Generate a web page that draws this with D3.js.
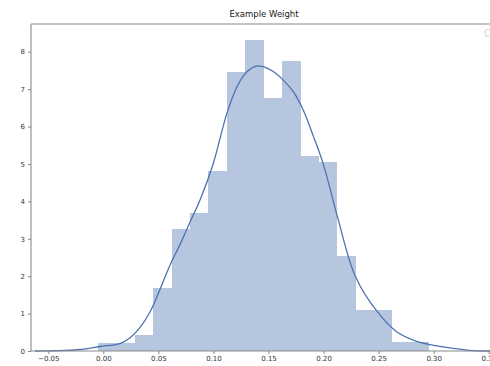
<!DOCTYPE html>
<html>
<head>
<meta charset="utf-8">
<script src="https://cdn.jsdelivr.net/npm/d3@7"></script>
<style>
  html, body { margin: 0; padding: 0; background: #fff; }
  svg { display: block; }
  text { font-family: "DejaVu Sans", sans-serif; }
</style>
</head>
<body>
<svg id="chart" width="490" height="366"></svg>
<script>
// ---- data ----
const title = "Example Weight";
const binStart = -0.0045;
const binWidth = 0.01665;
const binHeights = [0.22, 0.22, 0.43, 1.68, 3.25, 3.7, 4.8, 7.47, 8.32, 6.76, 7.74, 5.2, 5.06, 2.54, 1.1, 1.1, 0.24, 0.24];
const kdeX = [-0.062, -0.0485, -0.035, -0.021, -0.003, 0.015, 0.024, 0.033, 0.0425, 0.0515, 0.0606, 0.0697, 0.0788, 0.088, 0.0997, 0.1124, 0.1215, 0.1306, 0.1397, 0.1452, 0.1543, 0.1634, 0.1725, 0.1815, 0.1906, 0.1997, 0.2125, 0.2288, 0.2488, 0.267, 0.2852, 0.2952, 0.3179, 0.3361, 0.3515];
const kdeY = [0.0, 0.005, 0.015, 0.04, 0.12, 0.2, 0.35, 0.62, 1.05, 1.65, 2.3, 2.85, 3.45, 4.05, 5.0, 6.37, 7.07, 7.47, 7.62, 7.6, 7.47, 7.24, 6.93, 6.44, 5.75, 5.0, 3.6, 2.0, 1.05, 0.5, 0.25, 0.18, 0.07, 0.01, 0.0];
const xTicks = [-0.05, 0.00, 0.05, 0.10, 0.15, 0.20, 0.25, 0.30, 0.35];
const yTicks = [0, 1, 2, 3, 4, 5, 6, 7, 8];

// ---- layout ----
const L = 31, R = 497, T = 24, B = 351;
const svg = d3.select("#chart");
const x = d3.scaleLinear().domain([-0.0657, 0.3575]).range([L, R]);
const y = d3.scaleLinear().domain([0, 8.74]).range([B, T]);

const barColor = "#b7c6df";
const lineColor = "#4c72b0";

// bars
const bins = binHeights.map((h, i) => ({ x0: binStart + i * binWidth, x1: binStart + (i + 1) * binWidth, h }));
svg.append("g").attr("shape-rendering", "crispEdges").selectAll("rect").data(bins).join("rect")
  .attr("x", d => x(d.x0))
  .attr("width", d => x(d.x1) - x(d.x0) + 0.6)
  .attr("y", d => y(d.h))
  .attr("height", d => y(0) - y(d.h))
  .attr("fill", barColor);

// kde line
const pts = kdeX.map((v, i) => [v, kdeY[i]]);
svg.append("path")
  .datum(pts)
  .attr("fill", "none")
  .attr("stroke", lineColor)
  .attr("stroke-width", 1.3)
  .attr("d", d3.line().x(d => x(d[0])).y(d => y(d[1])).curve(d3.curveCatmullRom.alpha(0.5)));

// axes
const fmt = v => (v < 0 ? "\u2212" : "") + Math.abs(v).toFixed(2);
const xAxis = svg.append("g").attr("transform", `translate(0,${B})`)
  .call(d3.axisBottom(x).tickValues(xTicks).tickFormat(fmt).tickSize(3).tickPadding(2));
const yAxis = svg.append("g").attr("transform", `translate(${L},0)`)
  .call(d3.axisLeft(y).tickValues(yTicks).tickFormat(d3.format("d")).tickSize(3).tickPadding(3));
[xAxis, yAxis].forEach(g => {
  g.select(".domain").remove();
  g.selectAll(".tick line").attr("stroke", "#666").attr("stroke-width", 0.8);
  g.selectAll(".tick text").attr("fill", "#333").style("font-size", "7px");
});

// spines
const spine = svg.append("g").attr("fill", "none").attr("stroke", "#8a8a8a").attr("stroke-width", 1.1);
spine.append("line").attr("x1", L).attr("x2", R).attr("y1", T).attr("y2", T);
spine.append("line").attr("x1", L).attr("x2", L).attr("y1", T).attr("y2", B);
spine.append("line").attr("x1", L).attr("x2", R).attr("y1", B).attr("y2", B);
spine.append("line").attr("x1", R).attr("x2", R).attr("y1", T).attr("y2", B);

// title
svg.append("text")
  .attr("x", (L + R) / 2).attr("y", 17)
  .attr("text-anchor", "middle")
  .attr("fill", "#222")
  .style("font-size", "8.5px")
  .text(title);

// faint clipped text at right edge
svg.append("text")
  .attr("x", 484).attr("y", 37)
  .attr("fill", "#d8d8d8")
  .style("font-size", "10px")
  .text("C");
</script>
</body>
</html>
